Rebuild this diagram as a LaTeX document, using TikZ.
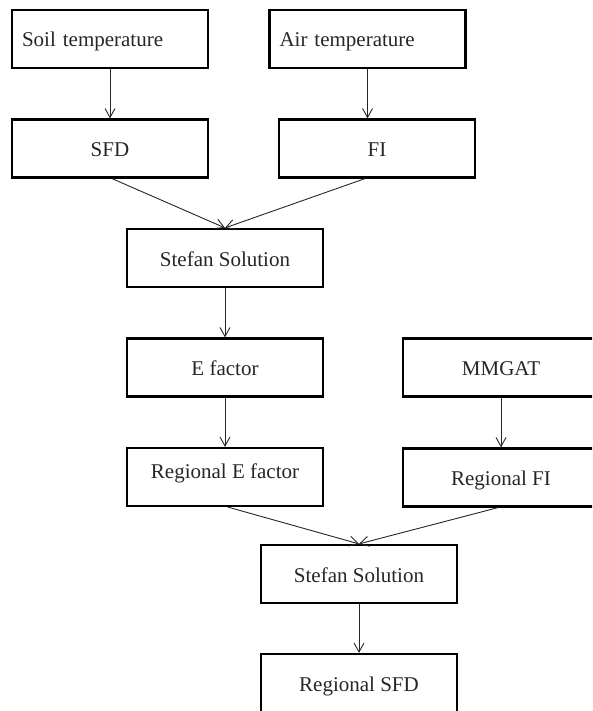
\documentclass[tikz,border=0pt]{standalone}
\usepackage{fontspec}
\setmainfont{Liberation Serif}
\usetikzlibrary{arrows.meta}
\begin{document}
\begin{tikzpicture}[x=1pt,y=-1pt,
  box/.style={draw, line width=2.2pt, minimum width=196pt, minimum height=58pt, inner sep=0pt,
    font=\fontsize{21}{25}\selectfont, text=black!85, text height=19pt, text depth=3pt},
  lbox/.style={box, text width=176pt, align=left},
  conn/.style={line width=0.9pt, draw=black!85, -{Straight Barb[length=9pt,width=10pt,line width=0.9pt]}}]
\useasboundingbox (0,0) rectangle (592,711);
\clip (0,0) rectangle (592,711);
\node[lbox] (soil) at (110,39) {Soil temperature};
\node[lbox] (air) at (367.5,39) {Air temperature};
\node[box] (sfd) at (110,148.5) {SFD};
\node[box] (fi) at (377,148.5) {FI};
\node[box] (st1) at (225,258) {Stefan Solution};
\node[box] (ef) at (225,367.5) {E factor};
\node[box] (mm) at (501,367.5) {MMGAT};
\node[box, text height=11pt, text depth=9pt] (ref) at (225,477) {Regional E factor};
\node[box] (rfi) at (501,477.5) {Regional FI};
\node[box] (st2) at (359,574) {Stefan Solution};
\node[box] (rsfd) at (359,683) {Regional SFD};
\draw[conn] (soil.south) -- (sfd.north);
\draw[conn] (air.south) -- (air.south |- fi.north);
\draw[conn] ([xshift=2pt]sfd.south) -- (st1.north);
\draw[conn] ([xshift=-12pt]fi.south) -- (st1.north);
\draw[conn] (st1.south) -- (ef.north);
\draw[conn] (ef.south) -- (ref.north);
\draw[conn] (mm.south) -- (rfi.north);
\draw[conn] ([xshift=3pt]ref.south) -- (st2.north);
\draw[conn] ([xshift=-3pt]rfi.south) -- (st2.north);
\draw[conn] (st2.south) -- (rsfd.north);
\end{tikzpicture}
\end{document}
